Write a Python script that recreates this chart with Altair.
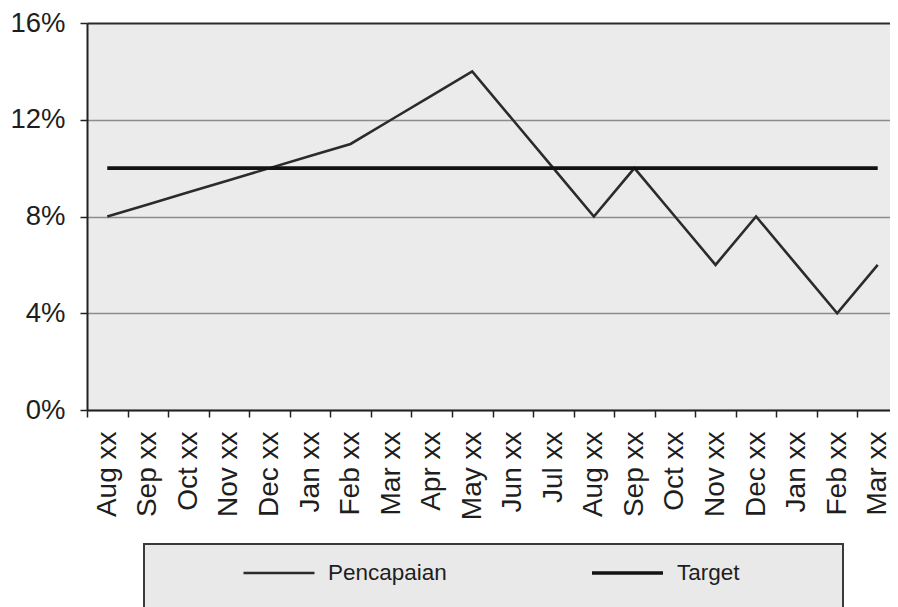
import json
import altair as alt
import pandas as pd

# ---- data ----
months = ["Aug xx", "Sep xx", "Oct xx", "Nov xx", "Dec xx", "Jan xx", "Feb xx",
          "Mar xx", "Apr xx", "May xx", "Jun xx", "Jul xx", "Aug xx", "Sep xx",
          "Oct xx", "Nov xx", "Dec xx", "Jan xx", "Feb xx", "Mar xx"]
pencapaian = [8, 8.5, 9, 9.5, 10, 10.5, 11, 12, 13, 14, 12, 10, 8, 10, 8, 6, 8, 6, 4, 6]
target = [10, 10, 10, 10, 10, 10, 10, 10, 10, 10, 10, 10, 10, 10, 10, 10, 10, 10, 10, 10]
series_names = ["Pencapaian", "Target"]
y_ticks = [0, 4, 8, 12, 16]

rows = []
for i in range(len(months)):
    rows.append({"idx": i, "series": "Pencapaian", "value": pencapaian[i]})
    rows.append({"idx": i, "series": "Target", "value": target[i]})
df = pd.DataFrame(rows)

FONT = "Liberation Sans"
label_expr = json.dumps(months) + "[datum.value]"
# blank run (non-breaking spaces closed by an invisible braille blank so it is not trimmed)
pad_right = "\u00a0" * 11 + "\u2800"

legend = alt.Legend(
    orient="none", legendX=57, legendY=521, direction="horizontal",
    title=" ", titleOrient="left", titleAnchor="start", titleFontSize=60,
    titlePadding=81,
    padding=17, fillColor="#e9e9e9", strokeColor="#3a3a3a",
    symbolType="stroke", symbolSize=5041, clipHeight=24,
    labelFont=FONT, labelFontSize=22.5, labelColor="#1e1e1e", labelOffset=12,
    labelLimit=400, columnPadding=143,
    labelExpr="datum.label == 'Target' ? datum.label + '" + pad_right + "' : datum.label",
)

chart = alt.Chart(df).mark_line().encode(
    x=alt.X("idx:O",
            scale=alt.Scale(type="band", paddingInner=0, paddingOuter=0, range=[0, 811]),
            axis=alt.Axis(title=None, labelExpr=label_expr, labelAngle=270,
                          labelAlign="right", labelBaseline="middle",
                          labelPadding=14, tickSize=7, tickBand="extent",
                          tickColor="#222222", tickWidth=1.5,
                          domainColor="#222222", domainWidth=2,
                          labelFont=FONT, labelFontSize=28, labelColor="#1e1e1e",
                          grid=False)),
    y=alt.Y("value:Q",
            scale=alt.Scale(domain=[0, 16], nice=False),
            axis=alt.Axis(title=None, values=y_ticks, labelExpr="datum.value + '%'",
                          tickSize=7, tickColor="#222222", tickWidth=1.5,
                          labelPadding=15, labelFont=FONT, labelFontSize=27.5,
                          labelColor="#1e1e1e",
                          domainColor="#222222", domainWidth=2,
                          grid=True,
                          gridColor={"condition": {"test": "datum.value >= 16", "value": "#2a2a2a"},
                                     "value": "#8c8c8c"},
                          gridWidth={"condition": {"test": "datum.value >= 16", "value": 2.2},
                                     "value": 1.5})),
    color=alt.Color("series:N",
                    scale=alt.Scale(domain=series_names, range=["#2b2b2b", "#121212"]),
                    legend=legend),
    strokeWidth=alt.StrokeWidth("series:N",
                                scale=alt.Scale(domain=series_names, range=[2.6, 3.6]),
                                legend=legend),
).properties(
    width=803, height=387,
    autosize=alt.AutoSizeParams(type="none"),
    padding={"left": 79, "top": 15, "right": 0, "bottom": 197},
    background="white",
).configure_view(fill="#ebebeb", stroke="transparent").configure_legend(strokeWidth=2)

chart.save("out.html", embed_options={"renderer": "svg", "actions": False})
